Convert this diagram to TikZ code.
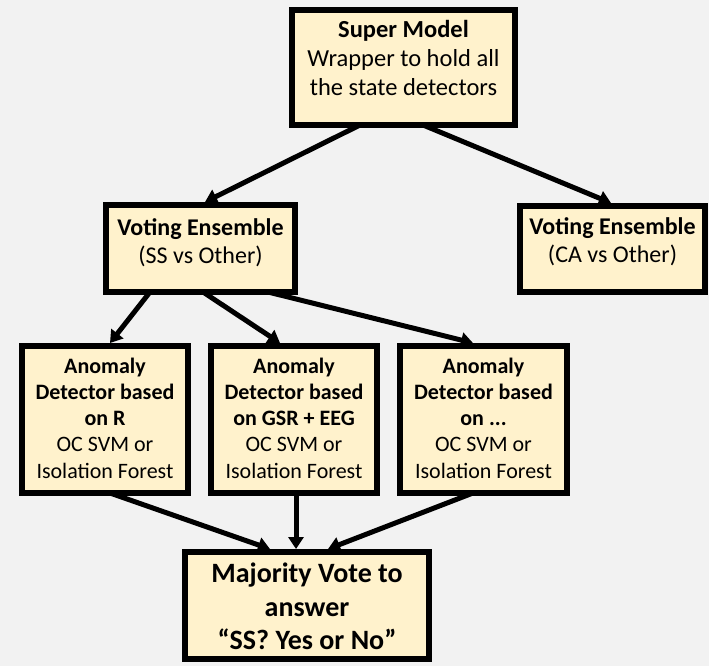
\documentclass[tikz,border=0pt]{standalone}
\usepackage{fontspec}
\setmainfont{Carlito}
\usetikzlibrary{arrows.meta,calc}
\definecolor{bg}{HTML}{F2F2F2}
\definecolor{boxfill}{HTML}{FFF2CC}
\newcommand{\bxtext}[6]{\begin{minipage}[c][#2pt][t]{#1pt}\fontsize{#4pt}{#5pt}\selectfont\centering\vspace*{#3pt}#6\end{minipage}}
\tikzset{
  box/.style={draw=black, line width=6pt, fill=boxfill, inner sep=0pt, outer sep=0pt, anchor=north west},
  conn/.style={line width=5pt, -{Triangle[length=12pt,width=15pt]}},
}
\begin{document}
\begin{tikzpicture}[x=1pt,y=-1pt]
\fill[bg] (0,0) rectangle (709,666);
\useasboundingbox (0,0) rectangle (709,666);

\node[box] (super) at (292,10) {\bxtext{223}{115}{7.7}{24.5}{29}{\textbf{\strut Super Model}\\\strut Wrapper to hold all\\\strut the state detectors}};
\node[box] (ss) at (106,205) {\bxtext{189}{87}{10.4}{24}{28}{\textbf{\strut Voting Ensemble}\\\strut (SS vs Other)}};
\node[box] (ca) at (520,206) {\bxtext{185}{86}{8.4}{24}{28}{\textbf{\strut Voting Ensemble}\\\strut (CA vs Other)}};
\node[box] (a1) at (22,346) {\bxtext{166}{147}{8.6}{22}{26.3}{\textbf{\strut Anomaly\\\strut Detector based\\\strut on R}\\\strut OC SVM or\\\strut Isolation Forest}};
\node[box] (a2) at (211,346) {\bxtext{166}{147}{8.6}{22}{26.3}{\textbf{\strut Anomaly\\\strut Detector based\\\strut on GSR + EEG}\\\strut OC SVM or\\\strut Isolation Forest}};
\node[box] (a3) at (400,346) {\bxtext{167}{147}{8.6}{22}{26.3}{\textbf{\strut Anomaly\\\strut Detector based\\\strut on ...}\\\strut OC SVM or\\\strut Isolation Forest}};
\node[box] (maj) at (185,552) {\bxtext{244}{107}{7.5}{28}{33.5}{\textbf{\strut Majority Vote to\\\strut answer\\\strut “SS? Yes or No”}}};

\draw[conn] ($(super.south west)+(68,0)$) -- ($(ss.north west)+(99,-3)$);
\draw[conn] ($(super.south west)+(131,0)$) -- ($(ca.north west)+(91,-3)$);
\draw[conn] ($(ss.south west)+(44,0)$) -- ($(a1.north west)+(88,-3)$);
\draw[conn] ($(ss.south west)+(97,0)$) -- ($(a2.north west)+(69,-3)$);
\draw[conn] ($(ss.south west)+(162,0)$) -- ($(a3.north west)+(73,-3)$);
\draw[conn] ($(a1.south west)+(88,0)$) -- ($(maj.north west)+(85,-3)$);
\draw[conn] ($(a2.south west)+(85,0)$) -- ($(maj.north west)+(111,-3)$);
\draw[conn] ($(a3.south west)+(73,0)$) -- ($(maj.north west)+(143,-3)$);
\end{tikzpicture}
\end{document}
